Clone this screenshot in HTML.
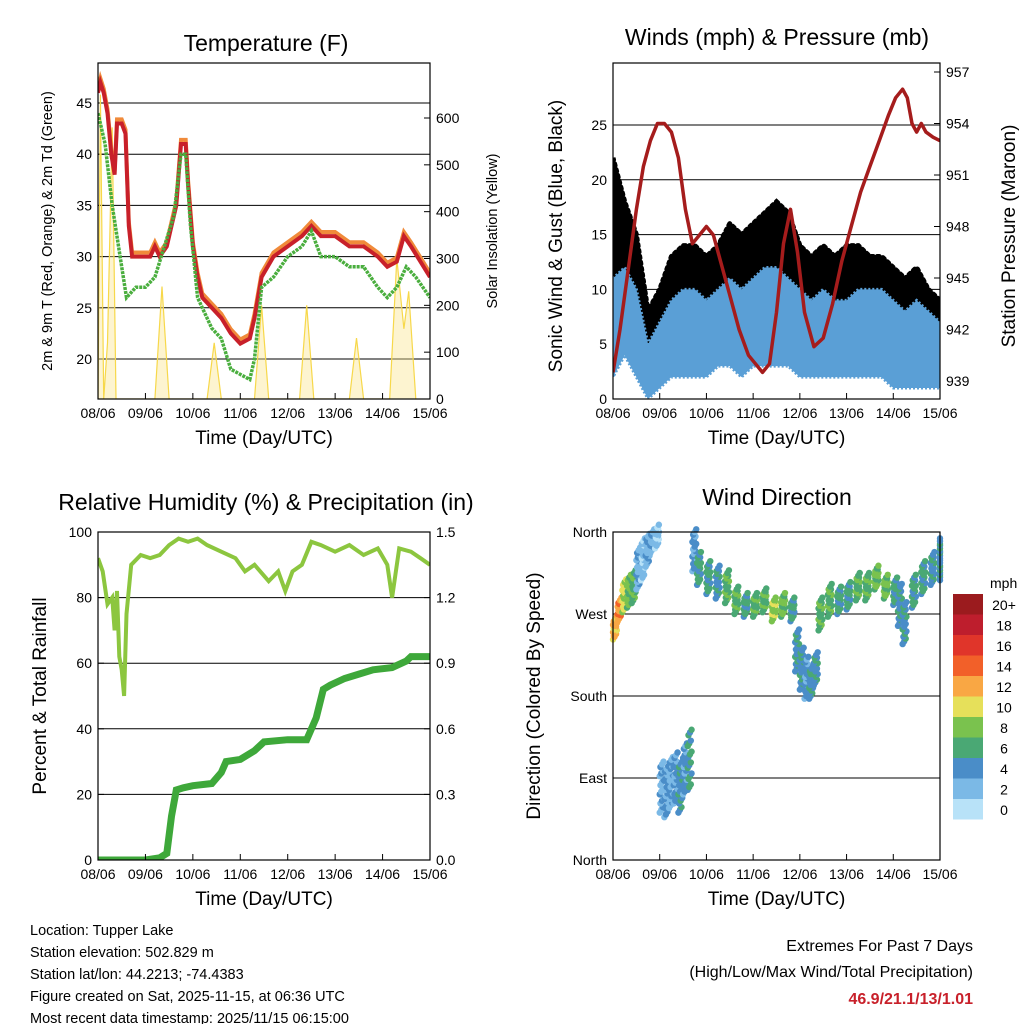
<!DOCTYPE html>
<html><head><meta charset="utf-8"><style>
body{margin:0;background:#fff;}
svg text{font-family:"Liberation Sans",sans-serif;}
</style></head><body>
<svg id="c" width="1024" height="1024" xmlns="http://www.w3.org/2000/svg">
<defs>
<clipPath id="cp1"><rect x="98" y="63" width="332" height="336"/></clipPath>
<clipPath id="cp2"><rect x="613" y="63" width="327" height="336"/></clipPath>
<clipPath id="cp3"><rect x="98" y="532" width="332" height="328"/></clipPath>
</defs>
</svg>
<script>
// ---------- DATA ----------
const dayLabels=["08/06","09/06","10/06","11/06","12/06","13/06","14/06","15/06"];
const tT=[0,0.05,0.12,0.2,0.28,0.35,0.4,0.5,0.58,0.65,0.72,0.9,1.0,1.1,1.2,1.3,1.45,1.55,1.65,1.75,1.85,1.9,2.0,2.1,2.2,2.4,2.6,2.8,3.0,3.2,3.3,3.45,3.7,4.0,4.3,4.5,4.7,5.0,5.3,5.6,5.9,6.1,6.3,6.45,6.6,6.8,7.0];
const tempV=[46,47,46,44,40,38,43,43,42,33,30,30,30,30,31,30,31,33,35,41,41,37,31,28,26,25,24,22.5,21.5,22,24,28,30,31,32,33,32,32,31,31,30,29,29.5,32,31,29.5,28];
const tTd=[0,0.15,0.3,0.5,0.6,0.8,1.0,1.2,1.4,1.6,1.75,1.85,1.95,2.1,2.4,2.6,2.8,3.0,3.2,3.3,3.45,3.7,4.0,4.3,4.5,4.7,5.0,5.3,5.6,5.9,6.1,6.3,6.5,6.7,7.0];
const dewV=[44,41,35,29,26,27,27,28,31,34,40,40,33,26,23,22,19,18.5,18,20,27,28,30,31,32.5,30,30,29,29,27,26,27,29,28,26];
const tSol=[0,0.05,0.12,0.2,0.3,0.38,0.45,1.2,1.35,1.5,2.3,2.45,2.6,3.3,3.45,3.6,4.25,4.4,4.55,5.3,5.45,5.6,6.15,6.3,6.45,6.55,6.7];
const solV=[0,650,0,120,580,0,0,0,240,0,0,120,0,0,200,0,0,200,0,0,130,0,0,300,150,230,0];
const tW=[0,0.25,0.5,0.75,1,1.25,1.5,1.75,2,2.25,2.5,2.75,3,3.25,3.5,3.75,4,4.25,4.5,4.75,5,5.25,5.5,5.75,6,6.25,6.5,6.75,7];
const windLo=[2,4,2,0,1,2,2,2,2,3,3,2,3,3,3,3,2,2,2,2,2,2,2,2,1,1,1,1,1];
const windHi=[11,12,10,5,7,9,10,10,9,10,11,10,11,12,12,11,10,9,10,9,9,10,10,10,9,8,9,8,7];
const gustLo=[11,11,9,3,4,7,8,8,8,8,10,9,10,11,11,11,8,8,9,8,8,9,8,8,6,6,6,6,5];
const gustHi=[22,18,15,8,10,13,14,14,13,14,16,15,16,17,18,17,14,13,14,13,14,14,13,13,12,11,12,10,9];
const tP=[0,0.15,0.35,0.5,0.65,0.8,0.95,1.1,1.25,1.4,1.55,1.7,1.85,2.0,2.15,2.3,2.5,2.7,2.9,3.05,3.2,3.35,3.5,3.65,3.8,3.95,4.1,4.3,4.5,4.7,4.9,5.1,5.3,5.5,5.7,5.9,6.05,6.2,6.3,6.4,6.5,6.6,6.7,6.85,7.0];
const presV=[939.5,942,946,949,951.5,953,954,954,953.5,952,949,947,947.5,948,947.5,946,944,942,940.5,940,939.5,940,943,947,949,946.5,943,941,941.5,943.5,946,948,950,951.5,953,954.5,955.5,956,955.5,954,953.5,954,953.5,953.2,953];
const tRH=[0,0.1,0.2,0.3,0.35,0.4,0.45,0.5,0.55,0.6,0.7,0.9,1.1,1.3,1.5,1.7,1.9,2.1,2.3,2.6,2.9,3.1,3.3,3.6,3.8,3.95,4.1,4.3,4.5,4.7,5.0,5.3,5.6,5.9,6.1,6.2,6.35,6.6,6.8,7.0];
const rhV=[92,88,78,80,70,82,62,58,50,75,90,93,92,93,96,98,97,98,96,94,92,88,90,85,88,82,88,90,97,96,94,96,93,95,90,80,95,94,92,90];
const tPr=[0,1.0,1.3,1.45,1.55,1.65,1.8,2.0,2.4,2.6,2.7,3.0,3.3,3.5,4.0,4.4,4.6,4.75,4.9,5.2,5.5,5.8,6.2,6.5,6.6,7.0];
const prV=[0,0,0.01,0.03,0.2,0.32,0.33,0.34,0.35,0.4,0.45,0.46,0.5,0.54,0.55,0.55,0.65,0.78,0.8,0.83,0.85,0.87,0.88,0.91,0.93,0.93];
const tD=[0,0.1,0.2,0.3,0.4,0.5,0.6,0.7,0.8,0.9,1.0,1.1,1.2,1.3,1.4,1.5,1.6,1.7,1.8,2.0,2.2,2.4,2.6,2.8,3.0,3.2,3.4,3.6,3.8,3.9,4.0,4.1,4.2,4.3,4.4,4.6,4.8,5.0,5.2,5.4,5.6,5.8,6.0,6.1,6.2,6.4,6.6,6.8,7.0];
const dirV=[255,275,290,295,300,320,330,340,350,355,80,75,85,90,80,100,110,340,320,310,305,300,285,280,280,285,275,280,275,230,210,200,195,210,270,285,285,290,300,300,310,300,295,280,260,295,310,320,330];
const dirS=[10,10,15,15,15,20,20,15,10,10,25,25,25,25,25,25,30,20,15,15,15,15,12,10,10,10,10,10,10,20,20,20,15,15,15,15,12,12,12,12,10,10,12,20,20,15,15,15,20];
const dirSpd=[11,12,9,7,6,2,1,2,2,1,2,3,2,3,4,3,5,3,5,5,4,6,6,5,6,6,8,7,5,4,4,3,4,4,6,6,5,5,6,6,7,7,5,4,4,5,5,4,4];
const cbLabels=["20+","18","16","14","12","10","8","6","4","2","0"];
const cbColors=["#9b1b1e","#be1e2d","#e0352a","#f26029","#f9a744","#e6e05a","#7ac24e","#4aa874","#4a8dc8","#7bb9e6","#b8e2f8"];

// ---------- HELPERS ----------
const NS="http://www.w3.org/2000/svg";const svg=document.getElementById('c');
function el(tag,attrs,parent,txt){const e=document.createElementNS(NS,tag);for(const k in attrs)e.setAttribute(k,attrs[k]);if(txt!==undefined)e.textContent=txt;(parent||svg).appendChild(e);return e;}
function lin(d0,d1,r0,r1){return v=>r0+(v-d0)*(r1-r0)/(d1-d0);}
function path(xs,ys,fx,fy){return xs.map((t,i)=>(i?'L':'M')+fx(t).toFixed(1)+','+fy(ys[i]).toFixed(1)).join('');}
function band(xs,lo,hi,fx,fy){let d=xs.map((t,i)=>(i?'L':'M')+fx(t).toFixed(1)+','+fy(hi[i]).toFixed(1)).join('');for(let i=xs.length-1;i>=0;i--)d+='L'+fx(xs[i]).toFixed(1)+','+fy(lo[i]).toFixed(1);return d+'Z';}
function frame(g,x0,y0,x1,y1,fx){
  const r=el('rect',{x:x0,y:y0,width:x1-x0,height:y1-y0,fill:'none',stroke:'#000','stroke-width':1.2},g);
  
  dayLabels.forEach((l,i)=>{const x=fx(i);el('line',{x1:x,x2:x,y1:y1,y2:y1-6,stroke:'#000'},g);
    const t=el('text',{x:x,y:y1+19,'font-size':14,'text-anchor':'middle'},g,l);
    });
  const xt=el('text',{x:(x0+x1)/2,y:y1+45,'font-size':19,'text-anchor':'middle'},g,'Time (Day/UTC)');
  
}
function yTicks(g,vals,labels,fy,x,side,grid,x0,x1){vals.forEach((v,i)=>{const y=fy(v);
  if(grid)el('line',{x1:x0,x2:x1,y1:y,y2:y,stroke:'#000','stroke-width':1},g);
  el('line',{x1:x,x2:x+(side<0?6:-6),y1:y,y2:y,stroke:'#000'},g);
  const t=el('text',{x:x+(side<0?-6:6),y:y+5,'font-size':14,'text-anchor':side<0?'end':'start'},g,labels[i]);
  });}
function title(g,x,y,s,n){const t=el('text',{x:x,y:y,'font-size':23,'text-anchor':'middle'},g,s);}
function vtitle(g,x,y,s,size,n){const t=el('text',{x:x,y:y,'font-size':size,'text-anchor':'middle',transform:`rotate(-90 ${x} ${y})`},g,s);}

// ---------- PANEL 1: TEMPERATURE ----------
(function(){const g=el('g',{});
const fx=lin(0,7,98,430),fy=lin(20,45,359,103),fs=lin(0,600,399,118);
yTicks(g,[20,25,30,35,40,45],['20','25','30','35','40','45'],fy,98,-1,true,98,430);
yTicks(g,[0,100,200,300,400,500,600],['0','100','200','300','400','500','600'],fs,430,1,false);
const cg=el('g',{'clip-path':'url(#cp1)'},g);
const s=el('path',{d:path(tSol,solV,fx,fs),fill:'#fbe38a','fill-opacity':0.4,stroke:'#f7d84a','stroke-width':1.2},cg);
const o=el('path',{d:path(tT,tempV.map(v=>v+0.4),fx,fy),fill:'none',stroke:'#f08a3a','stroke-width':4},cg);
const r=el('path',{d:path(tT,tempV,fx,fy),fill:'none',stroke:'#c8202a','stroke-width':4},cg);
const d=el('path',{d:path(tTd,dewV,fx,fy),fill:'none',stroke:'#4aae3e','stroke-width':3.5,'stroke-dasharray':'3 1'},cg);
frame(g,98,63,430,399,fx);
title(g,266,51,'Temperature (F)','temperature-title');
vtitle(g,52,231,'2m & 9m T (Red, Orange) & 2m Td (Green)',14.5,'temperature-y-title');
vtitle(g,497,231,'Solar Insolation (Yellow)',14.5,'solar-y-title');
})();

// ---------- PANEL 2: WINDS ----------
(function(){const g=el('g',{});
const fx=lin(0,7,613,940),fy=lin(0,25,399,125),fp=lin(939,957,381,72);
yTicks(g,[0,5,10,15,20,25],['0','5','10','15','20','25'],fy,613,-1,true,613,940);
yTicks(g,[939,942,945,948,951,954,957],['939','942','945','948','951','954','957'],fp,940,1,false);
const cg=el('g',{'clip-path':'url(#cp2)'},g);
const gb=el('path',{d:band(tW,gustLo,gustHi,fx,fy),fill:'#000',stroke:'#000','stroke-width':5,'stroke-dasharray':'2 4','stroke-linecap':'round'},cg);
const wb=el('path',{d:band(tW,windLo,windHi,fx,fy),fill:'#5a9fd6',stroke:'#5a9fd6','stroke-width':3,'stroke-dasharray':'2 2'},cg);
const p=el('path',{d:path(tP,presV,fx,fp),fill:'none',stroke:'#a51c1c','stroke-width':3.5,'stroke-linejoin':'round'},cg);
frame(g,613,63,940,399,fx);
title(g,777,45,'Winds (mph) & Pressure (mb)','winds-title');
vtitle(g,562,236,'Sonic Wind & Gust (Blue, Black)',19,'wind-y-title');
vtitle(g,1015,236,'Station Pressure (Maroon)',19,'pressure-y-title');
})();

// ---------- PANEL 3: RH ----------
(function(){const g=el('g',{});
const fx=lin(0,7,98,430),fy=lin(0,100,860,532),fr=lin(0,1.5,860,532);
yTicks(g,[0,20,40,60,80,100],['0','20','40','60','80','100'],fy,98,-1,true,98,430);
yTicks(g,[0,0.3,0.6,0.9,1.2,1.5],['0.0','0.3','0.6','0.9','1.2','1.5'],fr,430,1,false);
const cg=el('g',{'clip-path':'url(#cp3)'},g);
const h=el('path',{d:path(tRH,rhV,fx,fy),fill:'none',stroke:'#8cc63f','stroke-width':4},cg);
const pr=el('path',{d:path(tPr,prV,fx,fr),fill:'none',stroke:'#3ea83a','stroke-width':7},cg);
frame(g,98,532,430,860,fx);
title(g,266,510,'Relative Humidity (%) & Precipitation (in)','humidity-title');
vtitle(g,46,696,'Percent & Total Rainfall',19,'humidity-y-title');
})();

// ---------- PANEL 4: WIND DIRECTION ----------
(function(){const g=el('g',{});
const fx=lin(0,7,613,940),fy=lin(0,360,860,532);
yTicks(g,[0,90,180,270,360],['North','East','South','West','North'],fy,613,-1,false);
[90,180,270].forEach(v=>el('line',{x1:613,x2:940,y1:fy(v),y2:fy(v),stroke:'#000'},g));
const col=s=>cbColors[10-Math.max(0,Math.min(10,Math.round(s/2)))];
const offs=[-1,-0.6,-0.2,0.2,0.6,1];
tD.forEach((t,i)=>{offs.forEach((o,j)=>{for(let k=0;k<3;k++){
  const dt=(k*0.033)+(j%2?0.016:0);
  const c=el('circle',{cx:fx(Math.min(7,t+dt)),cy:fy(dirV[i]+o*dirS[i]+(k-1)*3),r:3.2,fill:col(dirSpd[i]+((j+k)%3-1))},g);
  }});});
frame(g,613,532,940,860,fx);
title(g,777,505,'Wind Direction','wind-direction-title');
vtitle(g,540,696,'Direction (Colored By Speed)',19,'direction-y-title');
const lg=el('g',{},g);
el('text',{x:990,y:588,'font-size':14,'text-anchor':'start'},lg,'mph');
cbColors.forEach((c,i)=>{const y=594+i*20.5;
  const r=el('rect',{x:953,y:y,width:30,height:20.5,fill:c},lg);
  el('text',{x:1004,y:y+16,'font-size':14,'text-anchor':'middle'},lg,cbLabels[i]);});
})();

// ---------- FOOTER ----------
const info=["Location: Tupper Lake","Station elevation: 502.829 m","Station lat/lon: 44.2213; -74.4383","Figure created on Sat, 2025-11-15, at 06:36 UTC","Most recent data timestamp: 2025/11/15 06:15:00"];
info.forEach((s,i)=>{const t=el('text',{x:30,y:935+i*22,'font-size':14.5},svg,s);});
let t=el('text',{x:973,y:951,'font-size':16,'text-anchor':'end'},svg,'Extremes For Past 7 Days');
t=el('text',{x:973,y:977,'font-size':16,'text-anchor':'end'},svg,'(High/Low/Max Wind/Total Precipitation)');
t=el('text',{x:973,y:1004,'font-size':16,'text-anchor':'end','font-weight':'bold',style:'fill:#c8202a'},svg,'46.9/21.1/13/1.01');
</script>
</body></html>
